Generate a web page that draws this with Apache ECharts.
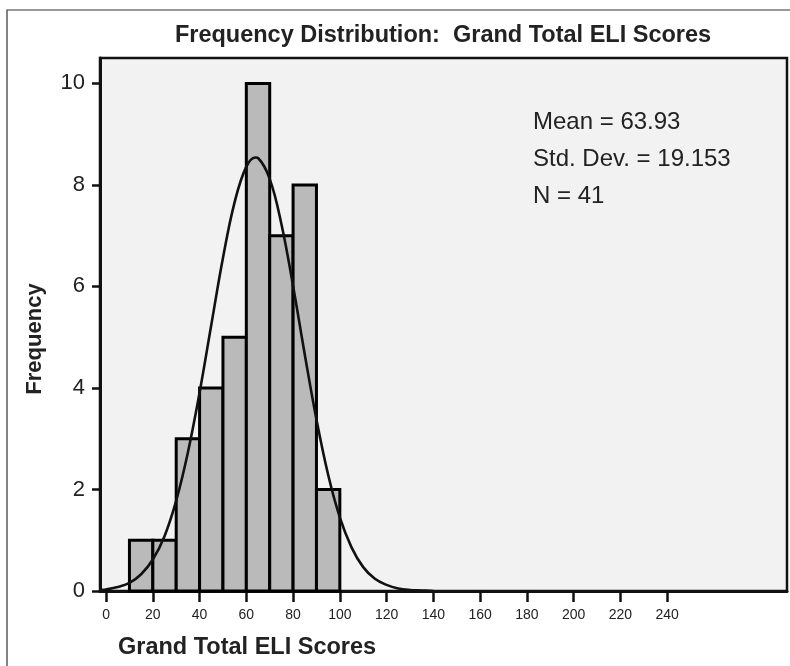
<!DOCTYPE html>
<html>
<head>
<meta charset="utf-8">
<script src="https://cdn.jsdelivr.net/npm/echarts@6/dist/echarts.min.js"></script>
<style>html,body{margin:0;padding:0;background:#fff;}#chart{width:790px;height:666px;}</style>
</head>
<body>
<div id="chart"></div>
<script>
// Histogram bins (score ranges) and their frequencies
const binLow = [10, 20, 30, 40, 50, 60, 70, 80, 90];
const binHigh = [20, 30, 40, 50, 60, 70, 80, 90, 100];
const frequencies = [1, 1, 3, 4, 5, 10, 7, 8, 2];

// Fitted normal curve
const curveX = [-2, 0, 5, 10, 15, 20, 25, 30, 35, 40, 45, 50, 55, 60, 64, 65, 70, 75, 80, 85, 90, 95, 100, 105, 110, 115, 120, 125, 130, 135, 140];
const curveY = [0.02, 0.03, 0.08, 0.16, 0.33, 0.62, 1.08, 1.78, 2.73, 3.91, 5.24, 6.56, 7.66, 8.36, 8.54, 8.53, 8.12, 7.23, 6.01, 4.66, 3.38, 2.29, 1.45, 0.86, 0.47, 0.24, 0.12, 0.05, 0.02, 0.01, 0.0];

// Tick labels
const xTickValues = [0, 20, 40, 60, 80, 100, 120, 140, 160, 180, 200, 220, 240];
const yTickValues = [0, 2, 4, 6, 8, 10];

const titleText = 'Frequency Distribution:  Grand Total ELI Scores';
const xName = 'Grand Total ELI Scores';
const yName = 'Frequency';
const statsLines = ['Mean = 63.93', 'Std. Dev. = 19.153', 'N = 41'];

const barData = binLow.map((v, i) => [v, binHigh[i], frequencies[i]]);
const curveData = curveX.map((v, i) => [v, curveY[i]]);

const chart = echarts.init(document.getElementById('chart'));
const FONT = '"Liberation Sans", Arial, Helvetica, sans-serif';
const statY = [122, 159, 196];

chart.setOption({
  animation: false,
  backgroundColor: '#fff',
  grid: {
    left: 100, right: 3, top: 58, bottom: 75,
    show: true, backgroundColor: '#f2f2f2',
    borderColor: '#111', borderWidth: 2.5
  },
  xAxis: {
    type: 'value', min: -2.6, max: 291.3,
    splitLine: { show: false },
    axisLine: { show: true, onZero: false, lineStyle: { color: '#111', width: 3 } },
    axisTick: { show: true, customValues: xTickValues, length: 11, lineStyle: { color: '#111', width: 2.5 } },
    axisLabel: { customValues: xTickValues, fontSize: 14, color: '#222', margin: 17, fontFamily: FONT }
  },
  yAxis: {
    type: 'value', min: 0, max: 10.5,
    splitLine: { show: false },
    axisLine: { show: true, onZero: false, lineStyle: { color: '#111', width: 3 } },
    axisTick: { show: true, customValues: yTickValues, length: 8, lineStyle: { color: '#111', width: 2.5 } },
    axisLabel: { customValues: yTickValues, fontSize: 22, color: '#222', margin: 15, fontFamily: FONT }
  },
  series: [
    {
      type: 'custom',
      data: barData,
      encode: { x: [0, 1], y: 2 },
      z: 2,
      renderItem: function (params, api) {
        const p0 = api.coord([api.value(0), api.value(2)]);
        const p1 = api.coord([api.value(1), 0]);
        return {
          type: 'rect',
          shape: { x: p0[0], y: p0[1], width: p1[0] - p0[0], height: p1[1] - p0[1] },
          style: { fill: '#bababa', stroke: '#000', lineWidth: 3 }
        };
      }
    },
    {
      type: 'line',
      data: curveData,
      smooth: 0.4,
      showSymbol: false,
      z: 3,
      lineStyle: { color: '#111', width: 2.6 }
    }
  ],
  graphic: [
    { type: 'rect', shape: { x: 7, y: 10, width: 800, height: 700 }, style: { fill: 'none', stroke: '#333', lineWidth: 1.2 }, z: 10, silent: true },
    { type: 'text', style: { text: titleText, x: 443, y: 36, font: 'bold 23.5px ' + FONT, fill: '#222', textAlign: 'center', textVerticalAlign: 'middle', verticalAlign: 'middle' }, z: 10 },
    { type: 'text', style: { text: xName, x: 118, y: 648, font: 'bold 23.5px ' + FONT, fill: '#222', textAlign: 'left', textVerticalAlign: 'middle', verticalAlign: 'middle' }, z: 10 },
    { type: 'text', rotation: Math.PI / 2, x: 35, y: 339, style: { text: yName, x: 0, y: 0, font: 'bold 22px ' + FONT, fill: '#222', textAlign: 'center', textVerticalAlign: 'middle', verticalAlign: 'middle' }, z: 10 },
    { type: 'text', style: { text: statsLines[0], x: 533, y: statY[0], font: '24px ' + FONT, fill: '#222', textAlign: 'left', textVerticalAlign: 'middle', verticalAlign: 'middle' }, z: 10 },
    { type: 'text', style: { text: statsLines[1], x: 533, y: statY[1], font: '24px ' + FONT, fill: '#222', textAlign: 'left', textVerticalAlign: 'middle', verticalAlign: 'middle' }, z: 10 },
    { type: 'text', style: { text: statsLines[2], x: 533, y: statY[2], font: '24px ' + FONT, fill: '#222', textAlign: 'left', textVerticalAlign: 'middle', verticalAlign: 'middle' }, z: 10 }
  ]
});
</script>
</body>
</html>
